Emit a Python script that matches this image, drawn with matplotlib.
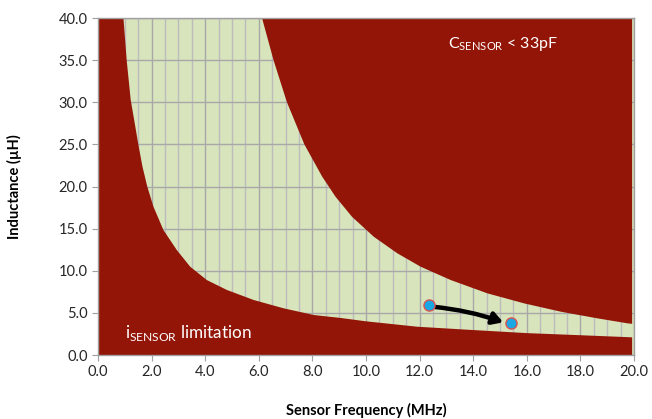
import matplotlib
matplotlib.use("Agg")
import matplotlib.pyplot as plt
from matplotlib.ticker import MultipleLocator, FormatStrFormatter

# font setup
plt.rcParams['font.family'] = ['Lato', 'DejaVu Sans']
plt.rcParams['mathtext.fontset'] = 'custom'
plt.rcParams['mathtext.rm'] = 'Lato'

# boundary of the i_SENSOR limited region (MHz, uH)
lower_f = [0.95, 1.07, 1.22, 1.35, 1.51, 1.66, 1.84, 2.07, 2.44, 2.94, 3.44, 4.06, 4.81,
           5.81, 6.93, 8.05, 9.05, 10.0, 11.91, 13.8, 16.0, 18.0, 19.93]
lower_L = [40.0, 35.0, 30.3, 27.9, 24.9, 22.35, 19.98, 17.6, 14.84, 12.46, 10.48, 8.9, 7.72,
           6.53, 5.54, 4.75, 4.4, 4.0, 3.36, 3.0, 2.6, 2.35, 2.1]

# boundary of the C_SENSOR < 33pF region
upper_f = [6.12, 6.55, 7.05, 7.70, 8.36, 8.86, 9.48, 10.29, 11.17, 12.04, 13.16, 14.53,
           15.90, 17.27, 18.64, 19.76, 19.93]
upper_L = [40.0, 35.0, 30.0, 25.0, 21.2, 18.8, 16.4, 14.04, 12.07, 10.48, 8.9, 7.32,
           6.13, 5.14, 4.35, 3.76, 3.7]

# operating points
pt_f = [12.35, 15.4]
pt_L = [5.93, 3.76]

red = '#931507'
green = '#d8e4bc'

fig = plt.figure(figsize=(6.52, 4.19), dpi=100)
ax = fig.add_axes([0.1503, 0.1527, 0.8221, 0.8043])
ax.set_facecolor(green)
ax.set_axisbelow(True)

ax.set_xlim(0, 20)
ax.set_ylim(0, 40)
ax.xaxis.set_major_locator(MultipleLocator(2))
ax.xaxis.set_minor_locator(MultipleLocator(0.5))
ax.yaxis.set_major_locator(MultipleLocator(5))
ax.xaxis.set_major_formatter(FormatStrFormatter('%.1f'))
ax.yaxis.set_major_formatter(FormatStrFormatter('%.1f'))
ax.grid(which='major', color='#a8a8a8', lw=1.0)
ax.grid(which='minor', axis='x', color='#bcbcbc', lw=1.0)
ax.tick_params(which='minor', length=0)
ax.tick_params(which='major', direction='out', length=4, color='#a0a0a0',
               labelsize=10.5, labelcolor='#262626')
for s in ax.spines.values():
    s.set_color('#a0a0a0')
    s.set_linewidth(1.0)

# red regions
xs = [0, 0] + lower_f + [lower_f[-1]]
ys = [0, 40] + lower_L + [0]
ax.fill(xs, ys, color=red, lw=0, zorder=2)
xs = upper_f + [upper_f[-1]]
ys = upper_L + [40]
ax.fill(xs, ys, color=red, lw=0, zorder=2)

# arrow between operating points
ax.annotate('', xy=(pt_f[1] - 0.28, pt_L[1] + 0.12), xytext=(pt_f[0] + 0.15, pt_L[0] - 0.2),
            arrowprops=dict(arrowstyle='-|>,head_length=0.6,head_width=0.35', color='black',
                            lw=3.2, connectionstyle='arc3,rad=-0.06', shrinkA=0, shrinkB=0),
            zorder=4)
ax.plot(pt_f, pt_L, 'o', ms=8, mfc='#1aa7e4', mec='#d9534f', mew=1.0, zorder=5)

ax.text(15.1, 36.9, r'C$_{\mathrm{SENSOR}}$ < 33pF', color='white', fontsize=11.5,
        ha='center', va='center', zorder=6)
ax.text(1.0, 2.6, r'i$_{\mathrm{SENSOR}}$ limitation', color='white', fontsize=12.3,
        ha='left', va='center', zorder=6)

ax.set_xlabel('Sensor Frequency (MHz)', fontsize=10.5, fontweight='bold', labelpad=17)
ax.set_ylabel('Inductance (µH)', fontsize=10.5, fontweight='bold', labelpad=26)

fig.savefig('out.png', dpi=100)
